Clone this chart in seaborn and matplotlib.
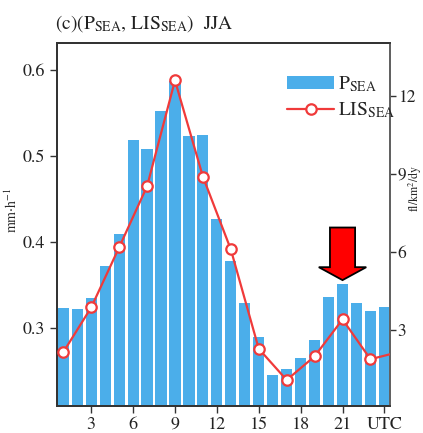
import numpy as np
import pandas as pd
import matplotlib
matplotlib.use("Agg")
import matplotlib.pyplot as plt
import seaborn as sns
from matplotlib.patches import Patch, FancyArrow
from matplotlib.lines import Line2D

# ---- data ----
hours = list(range(1, 25))
p_sea = [0.324, 0.323, 0.335, 0.372, 0.409, 0.518, 0.508, 0.552, 0.587, 0.523,
         0.524, 0.427, 0.378, 0.330, 0.290, 0.246, 0.253, 0.266, 0.286, 0.336,
         0.351, 0.330, 0.320, 0.325]
lis_hours = [1, 3, 5, 7, 9, 11, 13, 15, 17, 19, 21, 23, 25]
lis_sea = [2.15, 3.87, 6.18, 8.53, 12.60, 8.90, 6.10, 2.28, 1.08, 1.99, 3.41, 1.88, 2.15]
xticks = [3, 6, 9, 12, 15, 18, 21, 24]
xticklabels = ["3", "6", "9", "12", "15", "18", "21", "UTC"]
left_ticks = [0.3, 0.4, 0.5, 0.6]
right_ticks = [3, 6, 9, 12]
arrow_hour = 21

BLUE = "#4BAEEA"
RED = "#F03A3A"

sns.set_style("white")
plt.rcParams["font.family"] = ["STIXGeneral", "DejaVu Serif"]
plt.rcParams["mathtext.fontset"] = "stix"

fig = plt.figure(figsize=(4.23, 4.33), dpi=100)
ax = fig.add_axes([57/423, 1-406/433, 333/423, 363/433])

df_p = pd.DataFrame({"hour": hours, "p": p_sea})
sns.barplot(data=df_p, x="hour", y="p", native_scale=True, color=BLUE,
            saturation=1, width=0.8, edgecolor="none", ax=ax, zorder=2)

ax.set_xlim(0.55, 24.4)
ax.set_ylim(0.21, 0.631)
ax.set_xticks(xticks)
ax.set_xticklabels(xticklabels)
ax.set_yticks(left_ticks)
ax.set_yticklabels([f"{v:.1f}" for v in left_ticks])
ax.set_xlabel("")
ax.set_ylabel(r"mm$\cdot$h$^{-1}$", fontsize=10)
ax.yaxis.set_label_coords(-0.11, 0.54)

ax2 = ax.twinx()
df_l = pd.DataFrame({"hour": lis_hours, "lis": lis_sea})
sns.lineplot(data=df_l, x="hour", y="lis", ax=ax2, color=RED, lw=1.6,
             marker="o", markersize=7.5, markerfacecolor="white",
             markeredgecolor=RED, markeredgewidth=1.6, zorder=3)
ax2.set_ylim(0.08, 14.04)
ax2.set_yticks(right_ticks)
ax2.set_yticklabels([str(v) for v in right_ticks])
ax2.set_ylabel("fl/km$^{2}$/dy", fontsize=8.5, rotation=90, va="center")
ax2.yaxis.set_label_coords(1.076, 0.60)
ax2.set_xlim(0.55, 24.4)
ax2.set_xlabel("")

for a in (ax, ax2):
    a.tick_params(axis="both", which="major", direction="out", length=5,
                  width=1, labelsize=13, colors="#333333", labelcolor="#222222")
    for s in a.spines.values():
        s.set_color("#333333")
        s.set_linewidth(1.3)
ax.tick_params(axis="x", pad=3)
ax2.tick_params(axis="y", pad=1.5, length=4, labelsize=12.5)
ax2.spines["right"].set_color("#666666")
ax.yaxis.set_ticks_position("left")
ax.xaxis.set_ticks_position("bottom")

ax2.set_zorder(ax.get_zorder() + 1)
ax2.patch.set_visible(False)

# arrow pointing at the evening secondary peak (drawn in left-axis data units)
i = hours.index(arrow_hour)
tip = p_sea[i] + 0.005
arr = FancyArrow(arrow_hour, tip + 0.061, 0, -0.061, width=1.8, head_width=3.4,
                 head_length=0.015, length_includes_head=True,
                 facecolor="#FF0000", edgecolor="black", lw=1.3, zorder=6,
                 transform=ax.transData)
ax2.add_artist(arr)

handles = [Patch(facecolor=BLUE, edgecolor="none"),
           Line2D([0], [0], color=RED, lw=1.6, marker="o", markersize=7.5,
                  markerfacecolor="white", markeredgecolor=RED, markeredgewidth=1.6)]
labels = [r"P$_{\mathrm{SEA}}$", r"LIS$_{\mathrm{SEA}}$"]
ax2.legend(handles, labels, loc="upper left", bbox_to_anchor=(0.68, 0.925),
           frameon=False, fontsize=14, handlelength=2.4, handletextpad=0.2,
           labelspacing=0.35, borderpad=0.2, borderaxespad=0)

ax.text(-0.005, 1.025, r"(c)(P$_{\mathrm{SEA}}$, LIS$_{\mathrm{SEA}}$)  JJA",
        transform=ax.transAxes, fontsize=14, ha="left", va="bottom", color="#222222")

fig.savefig("out.png", dpi=100)
